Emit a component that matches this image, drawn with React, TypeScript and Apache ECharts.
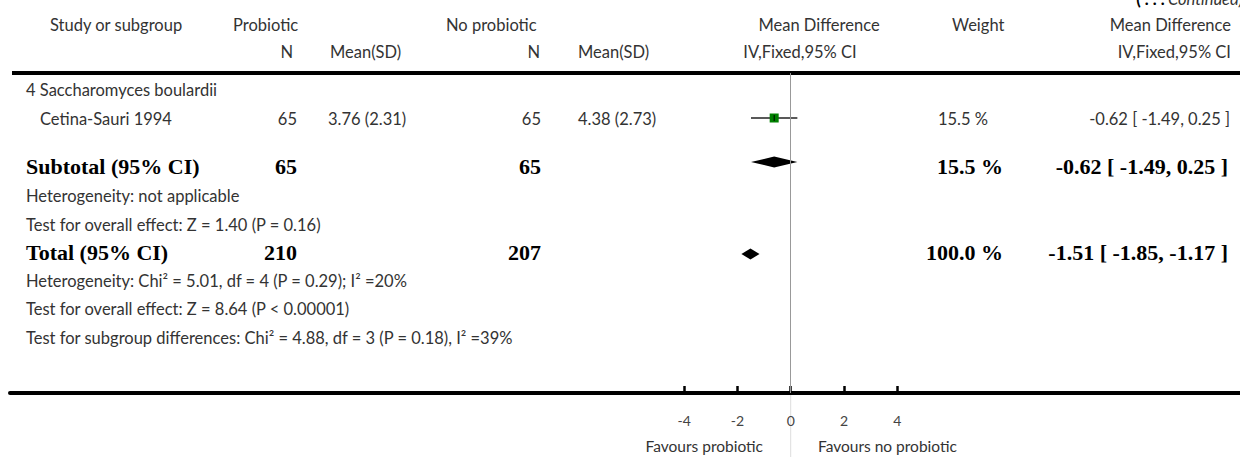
import React, { useEffect, useRef } from "react";
import * as echarts from "echarts";

// ---- data ----
const groupName = "4 Saccharomyces boulardii";
const studyNames = ["Cetina-Sauri 1994"];
const probioticN = [65];
const probioticMeanSD = ["3.76 (2.31)"];
const controlN = [65];
const controlMeanSD = ["4.38 (2.73)"];
const studyWeight = [15.5];
const studyMD = [-0.62];
const studyLow = [-1.49];
const studyHigh = [0.25];

const pooledLabels = ["Subtotal (95% CI)", "Total (95% CI)"];
const pooledProbioticN = [65, 210];
const pooledControlN = [65, 207];
const pooledWeight = [15.5, 100.0];
const pooledMD = [-0.62, -1.51];
const pooledLow = [-1.49, -1.85];
const pooledHigh = [0.25, -1.17];

const subgroupNotes = [
  "Heterogeneity: not applicable",
  "Test for overall effect: Z = 1.40 (P = 0.16)",
];
const totalNotes = [
  "Heterogeneity: Chi² = 5.01, df = 4 (P = 0.29); I² =20%",
  "Test for overall effect: Z = 8.64 (P < 0.00001)",
  "Test for subgroup differences: Chi² = 4.88, df = 3 (P = 0.18), I² =39%",
];

const axisTicks = [-4, -2, 0, 2, 4];

// ---- layout ----
const W = 1240;
const H = 457;
const HEADER_LINE_Y = 73;
const AXIS_Y = 393;
const PLOT_LEFT = 10;
const ZERO_PX = 790.7;
const PX_PER_UNIT = 26.65;
const X_MIN = (PLOT_LEFT - ZERO_PX) / PX_PER_UNIT;
const X_MAX = (W - ZERO_PX) / PX_PER_UNIT;

const ROW = {
  head1: 25,
  head2: 52,
  group: 90,
  study: [119],
  studyMark: [118],
  pooled: [166, 252],
  pooledMark: [162, 254],
  subNotes: [196, 225],
  totNotes: [281, 309, 338],
};

const SANS = "Lato, 'Noto Sans', sans-serif";
const SERIF = "'Liberation Serif', 'DejaVu Serif', serif";
const GREY = "#333";
const FS = 16.5;
const FS_BOLD = 22;

const fmt = (v: number) => v.toFixed(2);
const ciText = (m: number, l: number, h: number) => `${fmt(m)} [ ${fmt(l)}, ${fmt(h)} ]`;

function label(
  text: string,
  x: number,
  y: number,
  align: "left" | "right" | "center" = "left",
  bold = false,
  size?: number
) {
  return {
    type: "text",
    x,
    y,
    silent: true,
    style: {
      text,
      fill: bold ? "#000" : GREY,
      fontFamily: bold ? SERIF : SANS,
      fontSize: size ?? (bold ? FS_BOLD : FS),
      fontWeight: bold ? "bold" : "normal",
      textAlign: align,
      align,
      textVerticalAlign: "middle",
      verticalAlign: "middle",
    },
  };
}

export default function App() {
  const ref = useRef<HTMLDivElement>(null);

  useEffect(() => {
    if (!ref.current) return;
    const chart = echarts.init(ref.current, null, { renderer: "svg", width: W, height: H });

    const texts: any[] = [];
    // header rows
    texts.push(label("Study or subgroup", 50, ROW.head1));
    texts.push(label("Probiotic", 233, ROW.head1));
    texts.push(label("No probiotic", 446, ROW.head1));
    texts.push(label("Mean Difference", 819, ROW.head1, "center"));
    texts.push(label("Weight", 952, ROW.head1));
    texts.push(label("Mean Difference", 1231, ROW.head1, "right"));
    texts.push(label("N", 293, ROW.head2, "right"));
    texts.push(label("Mean(SD)", 330, ROW.head2));
    texts.push(label("N", 540, ROW.head2, "right"));
    texts.push(label("Mean(SD)", 578, ROW.head2));
    texts.push(label("IV,Fixed,95% CI", 800, ROW.head2, "center"));
    texts.push(label("IV,Fixed,95% CI", 1231, ROW.head2, "right"));

    // continuation note
    texts.push({
      type: "text",
      x: 1243,
      y: 7,
      silent: true,
      style: {
        text: "{b|( . . .} {i|Continued)}",
        align: "right",
        textAlign: "right",
        verticalAlign: "bottom",
        textVerticalAlign: "bottom",
        rich: {
          b: { fontFamily: SANS, fontSize: FS, fontWeight: "bold", fill: "#000" },
          i: { fontFamily: SANS, fontSize: FS, fontStyle: "italic", fill: GREY },
        },
      },
    });

    // subgroup + studies
    texts.push(label(groupName, 26, ROW.group));
    studyNames.forEach((name, i) => {
      const y = ROW.study[i];
      texts.push(label(name, 40, y));
      texts.push(label(String(probioticN[i]), 297, y, "right"));
      texts.push(label(probioticMeanSD[i], 328, y));
      texts.push(label(String(controlN[i]), 541, y, "right"));
      texts.push(label(controlMeanSD[i], 578, y));
      texts.push(label(`${studyWeight[i].toFixed(1)} %`, 988, y, "right"));
      texts.push(label(ciText(studyMD[i], studyLow[i], studyHigh[i]), 1230, y, "right"));
    });

    // pooled rows
    pooledLabels.forEach((name, i) => {
      const y = ROW.pooled[i];
      texts.push(label(name, 26, y, "left", true));
      texts.push(label(String(pooledProbioticN[i]), 297, y, "right", true));
      texts.push(label(String(pooledControlN[i]), 541, y, "right", true));
      texts.push(label(`${pooledWeight[i].toFixed(1)} %`, 1003, y, "right", true));
      texts.push(label(ciText(pooledMD[i], pooledLow[i], pooledHigh[i]), 1228, y, "right", true));
    });

    subgroupNotes.forEach((t, i) => texts.push(label(t, 26, ROW.subNotes[i])));
    totalNotes.forEach((t, i) => texts.push(label(t, 26, ROW.totNotes[i])));

    // favours captions
    texts.push(label("Favours probiotic", 763, 446, "right", false, 15.5));
    texts.push(label("Favours no probiotic", 818, 446, "left", false, 15.5));

    const headerLine = {
      type: "line",
      silent: true,
      shape: { x1: 12, y1: HEADER_LINE_Y, x2: W, y2: HEADER_LINE_Y },
      style: { stroke: "#000", lineWidth: 4 },
    };

    const option: any = {
      animation: false,
      backgroundColor: "#fff",
      grid: { left: PLOT_LEFT, right: 0, top: HEADER_LINE_Y, bottom: H - AXIS_Y, containLabel: false },
      xAxis: {
        type: "value",
        min: X_MIN,
        max: X_MAX,
        axisLine: { show: true, onZero: false, lineStyle: { color: "#000", width: 4 } },
        axisTick: {
          show: true,
          inside: true,
          length: 7,
          customValues: axisTicks,
          lineStyle: { color: "#000", width: 2.5 },
        },
        axisLabel: {
          show: true,
          customValues: axisTicks,
          color: "#444",
          fontFamily: SANS,
          fontSize: 14,
          margin: 20,
        },
        splitLine: { show: false },
      },
      yAxis: { type: "value", inverse: true, min: HEADER_LINE_Y, max: AXIS_Y, show: false },
      series: [
        {
          type: "custom",
          name: "studies",
          silent: true,
          data: studyMD.map((m, i) => [m, studyLow[i], studyHigh[i], ROW.studyMark[i]]),
          renderItem: (_p: any, api: any) => {
            const y = api.value(3);
            const c = api.coord([api.value(0), y]);
            const lo = api.coord([api.value(1), y])[0];
            const hi = api.coord([api.value(2), y])[0];
            const s = 9;
            return {
              type: "group",
              children: [
                { type: "line", shape: { x1: lo, y1: c[1], x2: hi, y2: c[1] }, style: { stroke: "#222", lineWidth: 1.3 } },
                { type: "rect", shape: { x: c[0] - s / 2, y: c[1] - s / 2, width: s, height: s }, style: { fill: "#008000" } },
                { type: "line", shape: { x1: c[0], y1: c[1] - 3, x2: c[0], y2: c[1] + 3 }, style: { stroke: "#000", lineWidth: 1 } },
              ],
            };
          },
          markLine: {
            silent: true,
            symbol: "none",
            label: { show: false },
            lineStyle: { color: "#999", width: 1, type: "solid" },
            data: [{ xAxis: 0 }],
          },
          z: 3,
        },
        {
          type: "custom",
          name: "pooled",
          silent: true,
          data: pooledMD.map((m, i) => [m, pooledLow[i], pooledHigh[i], ROW.pooledMark[i]]),
          renderItem: (_p: any, api: any) => {
            const y = api.value(3);
            const c = api.coord([api.value(0), y]);
            const lo = api.coord([api.value(1), y])[0];
            const hi = api.coord([api.value(2), y])[0];
            const h = 5.5;
            return {
              type: "polygon",
              shape: { points: [[lo, c[1]], [c[0], c[1] - h], [hi, c[1]], [c[0], c[1] + h]] },
              style: { fill: "#000" },
            };
          },
          z: 4,
        },
      ],
      graphic: { elements: [headerLine, ...texts] },
    };

    chart.setOption(option);

    // faint continuation of the zero line below the axis
    const zx = chart.convertToPixel({ xAxisIndex: 0 }, 0) as number;
    chart.setOption({
      graphic: {
        elements: [
          headerLine,
          ...texts,
          {
            type: "line",
            silent: true,
            shape: { x1: zx, y1: AXIS_Y + 2, x2: zx, y2: H },
            style: { stroke: "#ddd", lineWidth: 1 },
          },
        ],
      },
    });

    return () => chart.dispose();
  }, []);

  return (
    <div
      ref={ref}
      style={{ position: "fixed", left: 0, top: 0, width: W, height: H, background: "#fff" }}
    />
  );
}
